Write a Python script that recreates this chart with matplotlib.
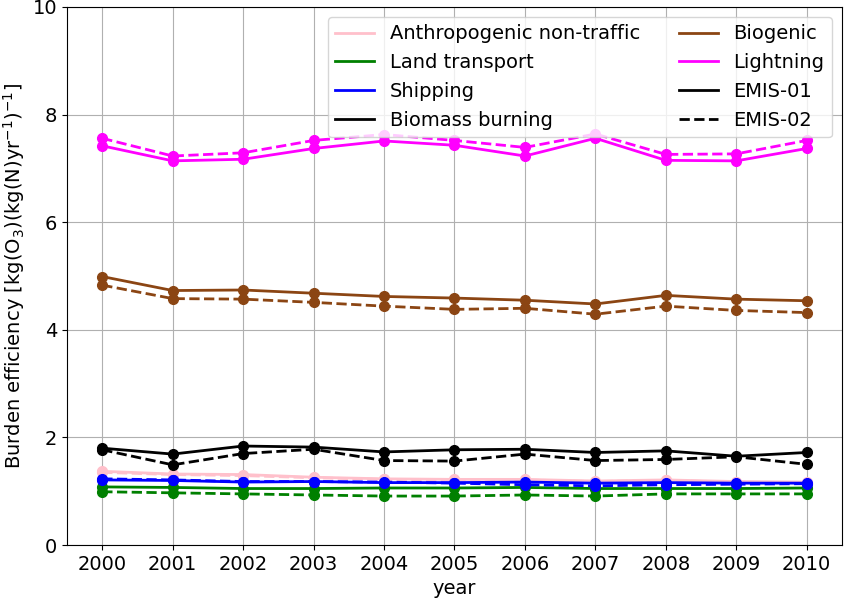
import matplotlib
matplotlib.use("Agg")
import matplotlib.pyplot as plt
from matplotlib.lines import Line2D

plt.rcParams["font.size"] = 14

years = list(range(2000, 2011))

# EMIS-01 (solid) and EMIS-02 (dashed) burden efficiencies
anthro_01 = [1.37, 1.32, 1.31, 1.26, 1.23, 1.22, 1.22, 1.19, 1.21, 1.18, 1.17]
anthro_02 = [1.35, 1.31, 1.29, 1.25, 1.22, 1.21, 1.21, 1.18, 1.20, 1.17, 1.16]
land_01 = [1.08, 1.07, 1.05, 1.05, 1.06, 1.06, 1.07, 1.05, 1.05, 1.05, 1.06]
land_02 = [0.99, 0.97, 0.95, 0.93, 0.91, 0.91, 0.93, 0.91, 0.95, 0.95, 0.95]
ship_01 = [1.21, 1.20, 1.17, 1.18, 1.16, 1.16, 1.17, 1.15, 1.16, 1.15, 1.15]
ship_02 = [1.23, 1.21, 1.18, 1.18, 1.17, 1.15, 1.12, 1.10, 1.12, 1.13, 1.14]
biomass_01 = [1.80, 1.69, 1.84, 1.82, 1.73, 1.77, 1.78, 1.72, 1.75, 1.65, 1.72]
biomass_02 = [1.77, 1.49, 1.70, 1.78, 1.57, 1.56, 1.69, 1.57, 1.59, 1.64, 1.50]
biogenic_01 = [4.99, 4.73, 4.74, 4.68, 4.62, 4.59, 4.55, 4.48, 4.64, 4.57, 4.54]
biogenic_02 = [4.83, 4.58, 4.57, 4.51, 4.44, 4.38, 4.40, 4.29, 4.44, 4.36, 4.32]
light_01 = [7.42, 7.14, 7.17, 7.37, 7.51, 7.43, 7.23, 7.56, 7.15, 7.14, 7.37]
light_02 = [7.56, 7.23, 7.29, 7.52, 7.63, 7.52, 7.39, 7.64, 7.26, 7.27, 7.52]

sources = [
    ("Anthropogenic non-traffic", "pink", anthro_01, anthro_02),
    ("Land transport", "green", land_01, land_02),
    ("Shipping", "blue", ship_01, ship_02),
    ("Biomass burning", "black", biomass_01, biomass_02),
    ("Biogenic", "saddlebrown", biogenic_01, biogenic_02),
    ("Lightning", "magenta", light_01, light_02),
]

fig = plt.figure(figsize=(8.44, 5.98), dpi=100)
ax = fig.add_axes([0.0794, 0.0886, 0.9182, 0.8997])

for name, color, v1, v2 in sources:
    ax.plot(years, v1, "-o", color=color, lw=2, ms=7)
    ax.plot(years, v2, "--o", color=color, lw=2, ms=7)

ax.set_ylim(0, 10)
ax.set_xticks(years)
ax.set_xlabel("year")
ax.set_ylabel(r"Burden efficiency [kg(O$_3$)(kg(N)yr$^{-1}$)$^{-1}$]")
ax.grid(True)

handles = [Line2D([], [], color=c, lw=2) for _, c, _, _ in sources]
handles += [Line2D([], [], color="black", lw=2, ls="-"),
            Line2D([], [], color="black", lw=2, ls="--")]
labels = [s[0] for s in sources] + ["EMIS-01", "EMIS-02"]
ax.legend(handles, labels, loc="upper right", ncol=2)

fig.savefig("out.png", dpi=100)
